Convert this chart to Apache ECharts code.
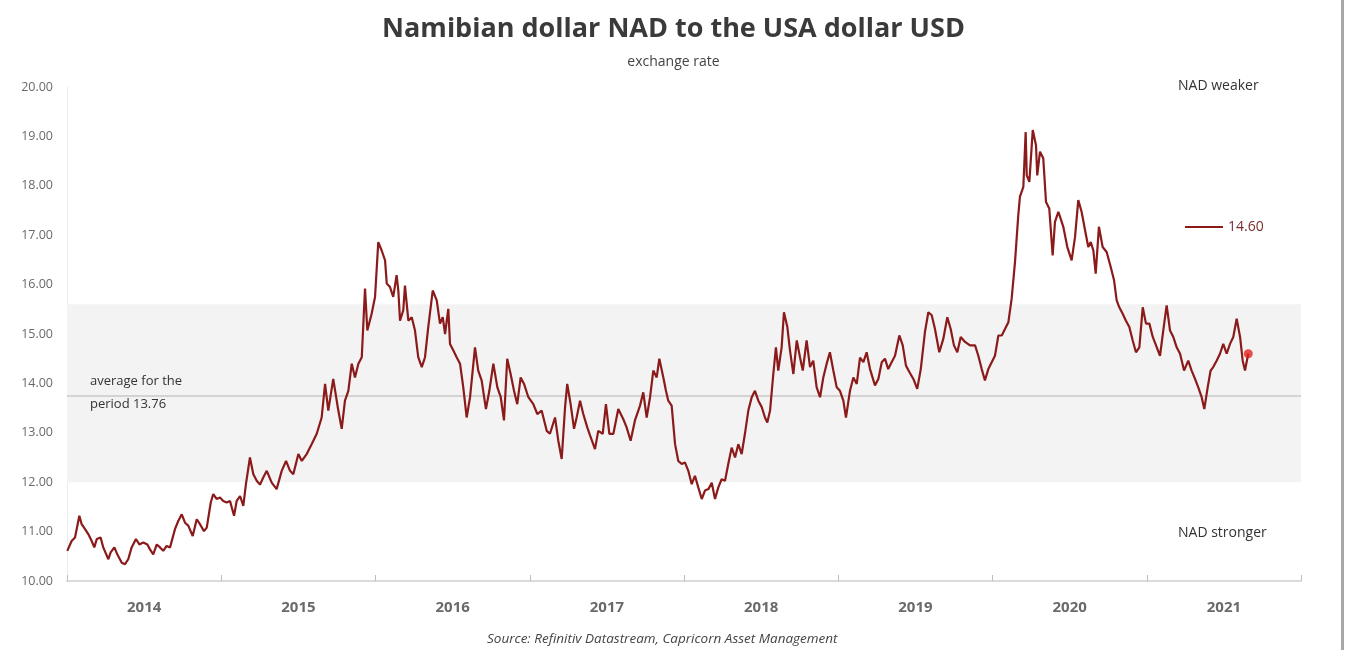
<!DOCTYPE html>
<html>
<head>
<meta charset="utf-8">
<script src="https://cdn.jsdelivr.net/npm/echarts@6/dist/echarts.min.js"></script>
<style>
html,body{margin:0;padding:0;background:#fff;}
#c{width:1347px;height:650px;}
</style>
</head>
<body>
<div id="c"></div>
<script>
// Year labels (category bands) on the x axis
const years = ['2014','2015','2016','2017','2018','2019','2020','2021'];
// Time positions as decimal years
const t = [
2014.002,2014.030,2014.052,2014.080,2014.095,2014.117,2014.138,2014.160,2014.177,2014.193,
2014.218,2014.235,2014.268,2014.283,2014.307,2014.326,2014.355,2014.376,2014.397,2014.419,
2014.447,2014.469,2014.495,2014.521,2014.538,2014.559,2014.582,2014.603,2014.624,2014.646,
2014.668,2014.700,2014.722,2014.744,2014.765,2014.786,2014.815,2014.841,2014.862,2014.888,
2014.906,2014.932,2014.948,2014.970,2014.992,2015.013,2015.035,2015.057,2015.068,2015.083,
2015.100,2015.122,2015.143,2015.160,2015.186,2015.208,2015.230,2015.251,2015.273,2015.295,
2015.327,2015.359,2015.392,2015.420,2015.446,2015.467,2015.500,2015.522,2015.554,2015.586,
2015.619,2015.651,2015.673,2015.694,2015.726,2015.759,2015.781,2015.802,2015.824,2015.846,
2015.867,2015.889,2015.911,2015.932,2015.947,2015.975,2015.997,2016.018,2016.040,2016.062,
2016.073,2016.094,2016.115,2016.137,2016.148,2016.159,2016.180,2016.191,2016.213,2016.235,
2016.256,2016.277,2016.300,2016.321,2016.342,2016.371,2016.397,2016.418,2016.436,2016.451,
2016.472,2016.483,2016.504,2016.526,2016.548,2016.569,2016.591,2016.613,2016.645,2016.666,
2016.688,2016.716,2016.738,2016.764,2016.790,2016.812,2016.833,2016.854,2016.876,2016.898,
2016.919,2016.941,2016.963,2016.991,2017.023,2017.049,2017.077,2017.110,2017.131,2017.164,
2017.185,2017.207,2017.229,2017.243,2017.265,2017.287,2017.304,2017.326,2017.347,2017.373,
2017.395,2017.423,2017.444,2017.473,2017.494,2017.516,2017.542,2017.574,2017.606,2017.628,
2017.654,2017.682,2017.715,2017.736,2017.758,2017.780,2017.801,2017.823,2017.840,2017.866,
2017.883,2017.898,2017.920,2017.942,2017.963,2017.985,2018.006,2018.028,2018.050,2018.071,
2018.093,2018.115,2018.136,2018.158,2018.180,2018.201,2018.222,2018.244,2018.266,2018.287,
2018.309,2018.331,2018.352,2018.374,2018.395,2018.417,2018.439,2018.460,2018.482,2018.504,
2018.525,2018.540,2018.558,2018.579,2018.596,2018.611,2018.633,2018.648,2018.670,2018.687,
2018.709,2018.731,2018.752,2018.770,2018.795,2018.817,2018.838,2018.860,2018.882,2018.903,
2018.925,2018.946,2018.968,2018.990,2019.011,2019.033,2019.050,2019.076,2019.098,2019.120,
2019.141,2019.163,2019.184,2019.206,2019.238,2019.260,2019.282,2019.303,2019.324,2019.346,
2019.368,2019.396,2019.418,2019.439,2019.461,2019.487,2019.512,2019.535,2019.562,2019.584,
2019.606,2019.627,2019.655,2019.681,2019.707,2019.729,2019.750,2019.772,2019.794,2019.822,
2019.854,2019.887,2019.908,2019.930,2019.951,2019.973,2019.995,2020.016,2020.038,2020.060,
2020.081,2020.103,2020.124,2020.146,2020.167,2020.178,2020.200,2020.215,2020.222,2020.239,
2020.261,2020.282,2020.290,2020.308,2020.329,2020.347,2020.368,2020.390,2020.405,2020.427,
2020.438,2020.459,2020.485,2020.513,2020.535,2020.556,2020.578,2020.600,2020.621,2020.637,
2020.654,2020.669,2020.690,2020.714,2020.740,2020.766,2020.788,2020.805,2020.822,2020.844,
2020.865,2020.887,2020.909,2020.930,2020.952,2020.974,2020.995,2021.017,2021.039,2021.065,
2021.086,2021.107,2021.129,2021.151,2021.172,2021.194,2021.216,2021.242,2021.269,2021.291,
2021.313,2021.334,2021.356,2021.373,2021.395,2021.414,2021.431,2021.453,2021.475,2021.496,
2021.518,2021.540,2021.561,2021.583,2021.605,2021.622,2021.637,2021.658
];
// NAD per USD
const rates = [
10.61,10.81,10.88,11.32,11.15,11.05,10.95,10.81,10.68,10.85,
10.88,10.68,10.44,10.58,10.68,10.54,10.37,10.34,10.44,10.68,
10.85,10.74,10.78,10.74,10.64,10.54,10.74,10.68,10.61,10.71,
10.68,11.05,11.22,11.35,11.18,11.12,10.91,11.25,11.15,11.01,
11.08,11.59,11.76,11.66,11.69,11.62,11.59,11.62,11.49,11.32,
11.62,11.72,11.52,11.96,12.50,12.16,12.03,11.95,12.10,12.23,
11.99,11.86,12.23,12.43,12.23,12.16,12.57,12.43,12.57,12.77,
12.98,13.31,13.99,13.45,14.09,13.45,13.08,13.65,13.85,14.40,
14.12,14.40,14.53,15.92,15.07,15.41,15.75,16.86,16.69,16.49,
16.02,15.95,15.75,16.19,15.88,15.27,15.48,15.98,15.27,15.34,
15.07,14.53,14.33,14.53,15.14,15.88,15.68,15.21,15.34,15.00,
15.51,14.80,14.67,14.53,14.40,13.92,13.31,13.72,14.73,14.26,
14.06,13.48,13.85,14.40,13.92,13.72,13.25,14.50,14.19,13.85,
13.58,14.12,13.99,13.72,13.58,13.38,13.45,13.04,12.98,13.31,
12.84,12.47,13.52,13.99,13.58,13.08,13.31,13.65,13.38,13.11,
12.91,12.67,13.04,12.98,13.58,12.98,12.98,13.48,13.28,13.11,
12.84,13.25,13.55,13.82,13.31,13.72,14.26,14.12,14.50,14.12,
13.85,13.65,13.55,12.77,12.43,12.37,12.40,12.23,11.96,12.13,
11.89,11.66,11.83,11.86,11.99,11.66,11.89,12.06,12.03,12.37,
12.70,12.50,12.77,12.57,12.98,13.45,13.72,13.85,13.65,13.52,
13.31,13.21,13.45,14.19,14.73,14.26,14.73,15.44,15.14,14.67,
14.19,14.87,14.53,14.26,14.87,14.33,14.46,13.92,13.72,14.12,
14.40,14.63,14.26,13.92,13.85,13.65,13.31,13.85,14.12,13.99,
14.52,14.43,14.63,14.29,13.96,14.09,14.43,14.50,14.29,14.43,
14.56,14.97,14.77,14.36,14.23,14.09,13.89,14.29,15.04,15.44,
15.38,15.10,14.63,14.90,15.34,15.10,14.77,14.63,14.94,14.84,
14.77,14.77,14.56,14.29,14.06,14.29,14.43,14.56,14.97,14.97,
15.10,15.24,15.71,16.46,17.40,17.78,17.98,19.09,18.21,18.08,
19.13,18.82,18.21,18.69,18.56,17.67,17.54,16.59,17.27,17.47,
17.37,17.17,16.76,16.49,16.96,17.71,17.47,17.10,16.76,16.86,
16.69,16.22,17.17,16.76,16.66,16.36,16.09,15.68,15.54,15.41,
15.27,15.14,14.87,14.63,14.73,15.54,15.21,15.21,14.94,14.73,
14.56,15.07,15.58,15.07,14.94,14.73,14.60,14.26,14.46,14.26,
14.09,13.92,13.72,13.48,13.92,14.26,14.33,14.46,14.60,14.80,
14.60,14.80,14.94,15.31,14.94,14.46,14.26,14.60
];
const yTicks = [10,11,12,13,14,15,16,17,18,19,20];
const average = 13.76;
const band = [12.0, 15.6];

const pts = t.map((x, i) => [x, rates[i]]);
const last = pts[pts.length - 1];
const lastLabel = last[1].toFixed(2);
const lineColor = '#8b1a1a';
const font = '"Open Sans", "Noto Sans", sans-serif';

const chart = echarts.init(document.getElementById('c'), null, {renderer: 'canvas'});
chart.setOption({
  backgroundColor: '#ffffff',
  animation: false,
  title: [{
    text: 'Namibian dollar NAD to the USA dollar USD',
    left: 'center', top: 11,
    textStyle: {fontFamily: font, fontSize: 27, fontWeight: 'bold', color: '#3a3a3a'}
  }, {
    text: 'exchange rate',
    left: 'center', top: 50,
    textStyle: {fontFamily: font, fontSize: 14, fontWeight: 'normal', color: '#444'}
  }],
  legend: {
    data: [lastLabel],
    left: 1180, top: 215,
    icon: 'rect', itemWidth: 38, itemHeight: 2, itemGap: 10,
    textStyle: {fontFamily: font, fontSize: 14, color: '#7a2c2c'}
  },
  grid: {left: 67, right: 46, top: 87, bottom: 69},
  xAxis: [{
    type: 'category',
    data: years,
    boundaryGap: true,
    axisLine: {lineStyle: {color: '#cfcfcf', width: 1.5}},
    axisTick: {show: true, inside: true, length: 6, alignWithLabel: false, lineStyle: {color: '#bdbdbd'}},
    axisLabel: {fontFamily: font, fontSize: 15, fontWeight: 'bold', color: '#6a6a6a', margin: 19},
    splitLine: {show: false}
  }, {
    type: 'value', min: 2014, max: 2022, show: false
  }],
  yAxis: {
    type: 'value', min: yTicks[0], max: yTicks[yTicks.length - 1], interval: 1,
    axisLine: {show: true, lineStyle: {color: '#ececec'}},
    axisTick: {show: false},
    splitLine: {show: false},
    axisLabel: {fontFamily: font, fontSize: 12.5, color: '#6a6a6a', margin: 14,
      formatter: v => v.toFixed(2)}
  },
  series: [{
    name: lastLabel,
    type: 'line',
    xAxisIndex: 1,
    data: pts,
    showSymbol: false,
    symbol: 'none',
    lineStyle: {color: lineColor, width: 2.2},
    itemStyle: {color: lineColor},
    z: 5,
    markArea: {
      silent: true,
      itemStyle: {color: '#f3f3f3'},
      data: [[{yAxis: band[0]}, {yAxis: band[1]}]]
    },
    markLine: {
      silent: true, symbol: 'none',
      label: {show: false},
      lineStyle: {color: '#c9c9c9', width: 1.5, type: 'solid'},
      data: [{yAxis: average}]
    }
  }, {
    type: 'scatter',
    xAxisIndex: 1,
    data: [last],
    symbolSize: 9,
    itemStyle: {color: '#e0231d'},
    z: 6
  }],
  graphic: [
    {type: 'text', z: 100, left: 90, top: 370, style: {text: 'average for the\nperiod 13.76', fontFamily: font, fontSize: 13, lineHeight: 23, fill: '#333'}},
    {type: 'text', z: 100, left: 1178, top: 79, style: {text: 'NAD weaker', fontFamily: font, fontSize: 14, fill: '#333'}},
    {type: 'text', z: 100, left: 1178, top: 526, style: {text: 'NAD stronger', fontFamily: font, fontSize: 14, fill: '#333'}},
    {type: 'text', z: 100, left: 487, top: 632, style: {text: 'Source: Refinitiv Datastream, Capricorn Asset Management', fontFamily: font, fontSize: 13.5, fontStyle: 'italic', fill: '#444'}},
    {type: 'rect', z: 100, left: 1341, top: 0, shape: {width: 3, height: 650}, style: {fill: '#a8a8a8'}}
  ]
});
</script>
</body>
</html>
